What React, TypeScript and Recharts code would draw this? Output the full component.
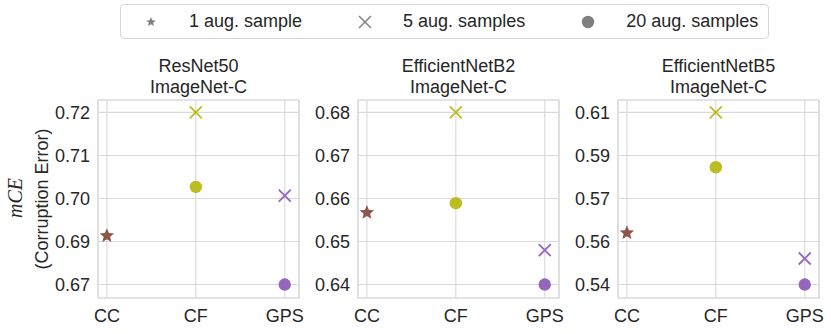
import { ScatterChart, Scatter, XAxis, YAxis, CartesianGrid, ReferenceArea } from 'recharts'

const categories = ['CC', 'CF', 'GPS']
const categoryColors = ['#8c564b', '#bcbd22', '#9467bd']
const seriesNames = ['1 aug. sample', '5 aug. samples', '20 aug. samples']
const datasetName = 'ImageNet-C'

// values per series, one slot per category (null = no point)
const resnet50OneAug = [0.6874, null, null]
const resnet50FiveAug = [null, 0.72, 0.698]
const resnet50TwentyAug = [null, 0.7003, 0.6745]
const resnet50Ticks = [0.6745, 0.685875, 0.69725, 0.708625, 0.72]
const resnet50TickLabels = ['0.67', '0.69', '0.70', '0.71', '0.72']

const effB2OneAug = [0.6567, null, null]
const effB2FiveAug = [null, 0.68, 0.648]
const effB2TwentyAug = [null, 0.6589, 0.64]
const effB2Ticks = [0.64, 0.65, 0.66, 0.67, 0.68]
const effB2TickLabels = ['0.64', '0.65', '0.66', '0.67', '0.68']

const effB5OneAug = [0.561, null, null]
const effB5FiveAug = [null, 0.61, 0.5506]
const effB5TwentyAug = [null, 0.5877, 0.54]
const effB5Ticks = [0.54, 0.5575, 0.575, 0.5925, 0.61]
const effB5TickLabels = ['0.54', '0.56', '0.57', '0.59', '0.61']

const panels = [
  { title: 'ResNet50', series: [resnet50OneAug, resnet50FiveAug, resnet50TwentyAug], ticks: resnet50Ticks, labels: resnet50TickLabels },
  { title: 'EfficientNetB2', series: [effB2OneAug, effB2FiveAug, effB2TwentyAug], ticks: effB2Ticks, labels: effB2TickLabels },
  { title: 'EfficientNetB5', series: [effB5OneAug, effB5FiveAug, effB5TwentyAug], ticks: effB5Ticks, labels: effB5TickLabels },
]

const FONT = '"Liberation Sans", Arial, sans-serif'
const TEXT = '#262626'
const GRID = '#d9d9d9'
const PLOT_LEFTS = [98, 358, 618]
const PLOT_W = 201
const X_DOMAIN = [-0.1, 2.16]

function starPath(cx: number, cy: number, r: number) {
  const pts: string[] = []
  for (let i = 0; i < 10; i++) {
    const rad = i % 2 === 0 ? r : r * 0.45
    const a = -Math.PI / 2 + (i * Math.PI) / 5
    pts.push(`${cx + rad * Math.cos(a)},${cy + rad * Math.sin(a)}`)
  }
  return pts.join(' ')
}

function Marker({ kind, cx, cy, color, small }: { kind: number; cx: number; cy: number; color: string; small?: boolean }) {
  if (kind === 0) return <polygon points={starPath(cx, cy, small ? 5 : 7.6)} fill={color} />
  if (kind === 1) {
    const h = 6
    return (
      <g stroke={color} strokeWidth={small ? 1.4 : 1.8}>
        <line x1={cx - h} y1={cy - h} x2={cx + h} y2={cy + h} />
        <line x1={cx - h} y1={cy + h} x2={cx + h} y2={cy - h} />
      </g>
    )
  }
  return <circle cx={cx} cy={cy} r={6.2} fill={color} />
}

function Panel({ idx }: { idx: number }) {
  const p = panels[idx]
  const span = p.ticks[4] - p.ticks[0]
  const domain = [p.ticks[0] - span * 0.078, p.ticks[4] + span * 0.072]
  const left = PLOT_LEFTS[idx]
  return (
    <>
      <div
        style={{
          position: 'absolute', left, top: 56, width: PLOT_W, textAlign: 'center',
          fontFamily: FONT, fontSize: 18, lineHeight: '21px', color: TEXT,
        }}
      >
        {p.title}
        <br />
        {datasetName}
      </div>
      <div style={{ position: 'absolute', left: left - 60, top: 0 }}>
        <ScatterChart width={60 + PLOT_W + 20} height={334} margin={{ top: 100, right: 20, bottom: 0, left: 0 }}>
          <CartesianGrid stroke={GRID} strokeWidth={1.1} />
          <XAxis
            type="number"
            dataKey="x"
            domain={X_DOMAIN}
            ticks={[0, 1, 2]}
            tickFormatter={(v) => categories[v]}
            height={36}
            axisLine={false}
            tickLine={false}
            tickSize={0}
            tickMargin={11}
            allowDataOverflow
            tick={{ fill: TEXT, fontSize: 18, fontFamily: FONT }}
          />
          <YAxis
            type="number"
            dataKey="y"
            domain={domain}
            ticks={p.ticks}
            tickFormatter={(v) => p.labels[p.ticks.indexOf(v)]}
            width={60}
            axisLine={false}
            tickLine={false}
            tickSize={0}
            tickMargin={8}
            allowDataOverflow
            tick={{ fill: TEXT, fontSize: 18, fontFamily: FONT }}
          />
          <ReferenceArea
            x1={X_DOMAIN[0]}
            x2={X_DOMAIN[1]}
            y1={domain[0]}
            y2={domain[1]}
            fill="none"
            stroke={GRID}
            strokeWidth={1.2}
            ifOverflow="visible"
          />
          {p.series.map((vals, s) => (
            <Scatter
              key={s}
              name={seriesNames[s]}
              isAnimationActive={false}
              data={vals
                .map((v, i) => ({ x: i, y: v, color: categoryColors[i] }))
                .filter((d) => d.y !== null)}
              shape={(props: any) => (
                <Marker kind={s} cx={props.cx} cy={props.cy} color={props.payload.color} />
              )}
            />
          ))}
        </ScatterChart>
      </div>
    </>
  )
}

function Legend() {
  return (
    <div
      style={{
        position: 'absolute', left: 120, top: 4, width: 647, height: 33,
        border: '1px solid #d6d6d6', borderRadius: 4, background: '#fff',
        display: 'flex', alignItems: 'center', fontFamily: FONT, fontSize: 18, color: TEXT,
      }}
    >
      {seriesNames.map((name, s) => (
        <div key={s} style={{ display: 'flex', alignItems: 'center', marginLeft: s === 0 ? 22 : 55 }}>
          <svg width={16} height={16}>
            <Marker kind={s} cx={8} cy={8} color="#7f7f7f" small />
          </svg>
          <span style={{ marginLeft: 30 }}>{name}</span>
        </div>
      ))}
    </div>
  )
}

export default function App() {
  return (
    <div style={{ position: 'absolute', left: 0, top: 0, width: 831, height: 334, background: '#fff', overflow: 'hidden' }}>
      <Legend />
      <svg style={{ position: 'absolute', left: 0, top: 0 }} width={60} height={334}>
        <text
          x={15}
          y={198}
          transform="rotate(-90 15 198)"
          textAnchor="middle"
          dominantBaseline="central"
          fontFamily='"Liberation Serif", serif'
          fontStyle="italic"
          fontSize={20}
          fill={TEXT}
        >
          mCE
        </text>
        <text
          x={41.7}
          y={199}
          transform="rotate(-90 41.7 199)"
          textAnchor="middle"
          dominantBaseline="central"
          fontFamily={FONT}
          fontSize={18}
          fill={TEXT}
        >
          (Corruption Error)
        </text>
      </svg>
      {panels.map((_, i) => (
        <Panel key={i} idx={i} />
      ))}
    </div>
  )
}
